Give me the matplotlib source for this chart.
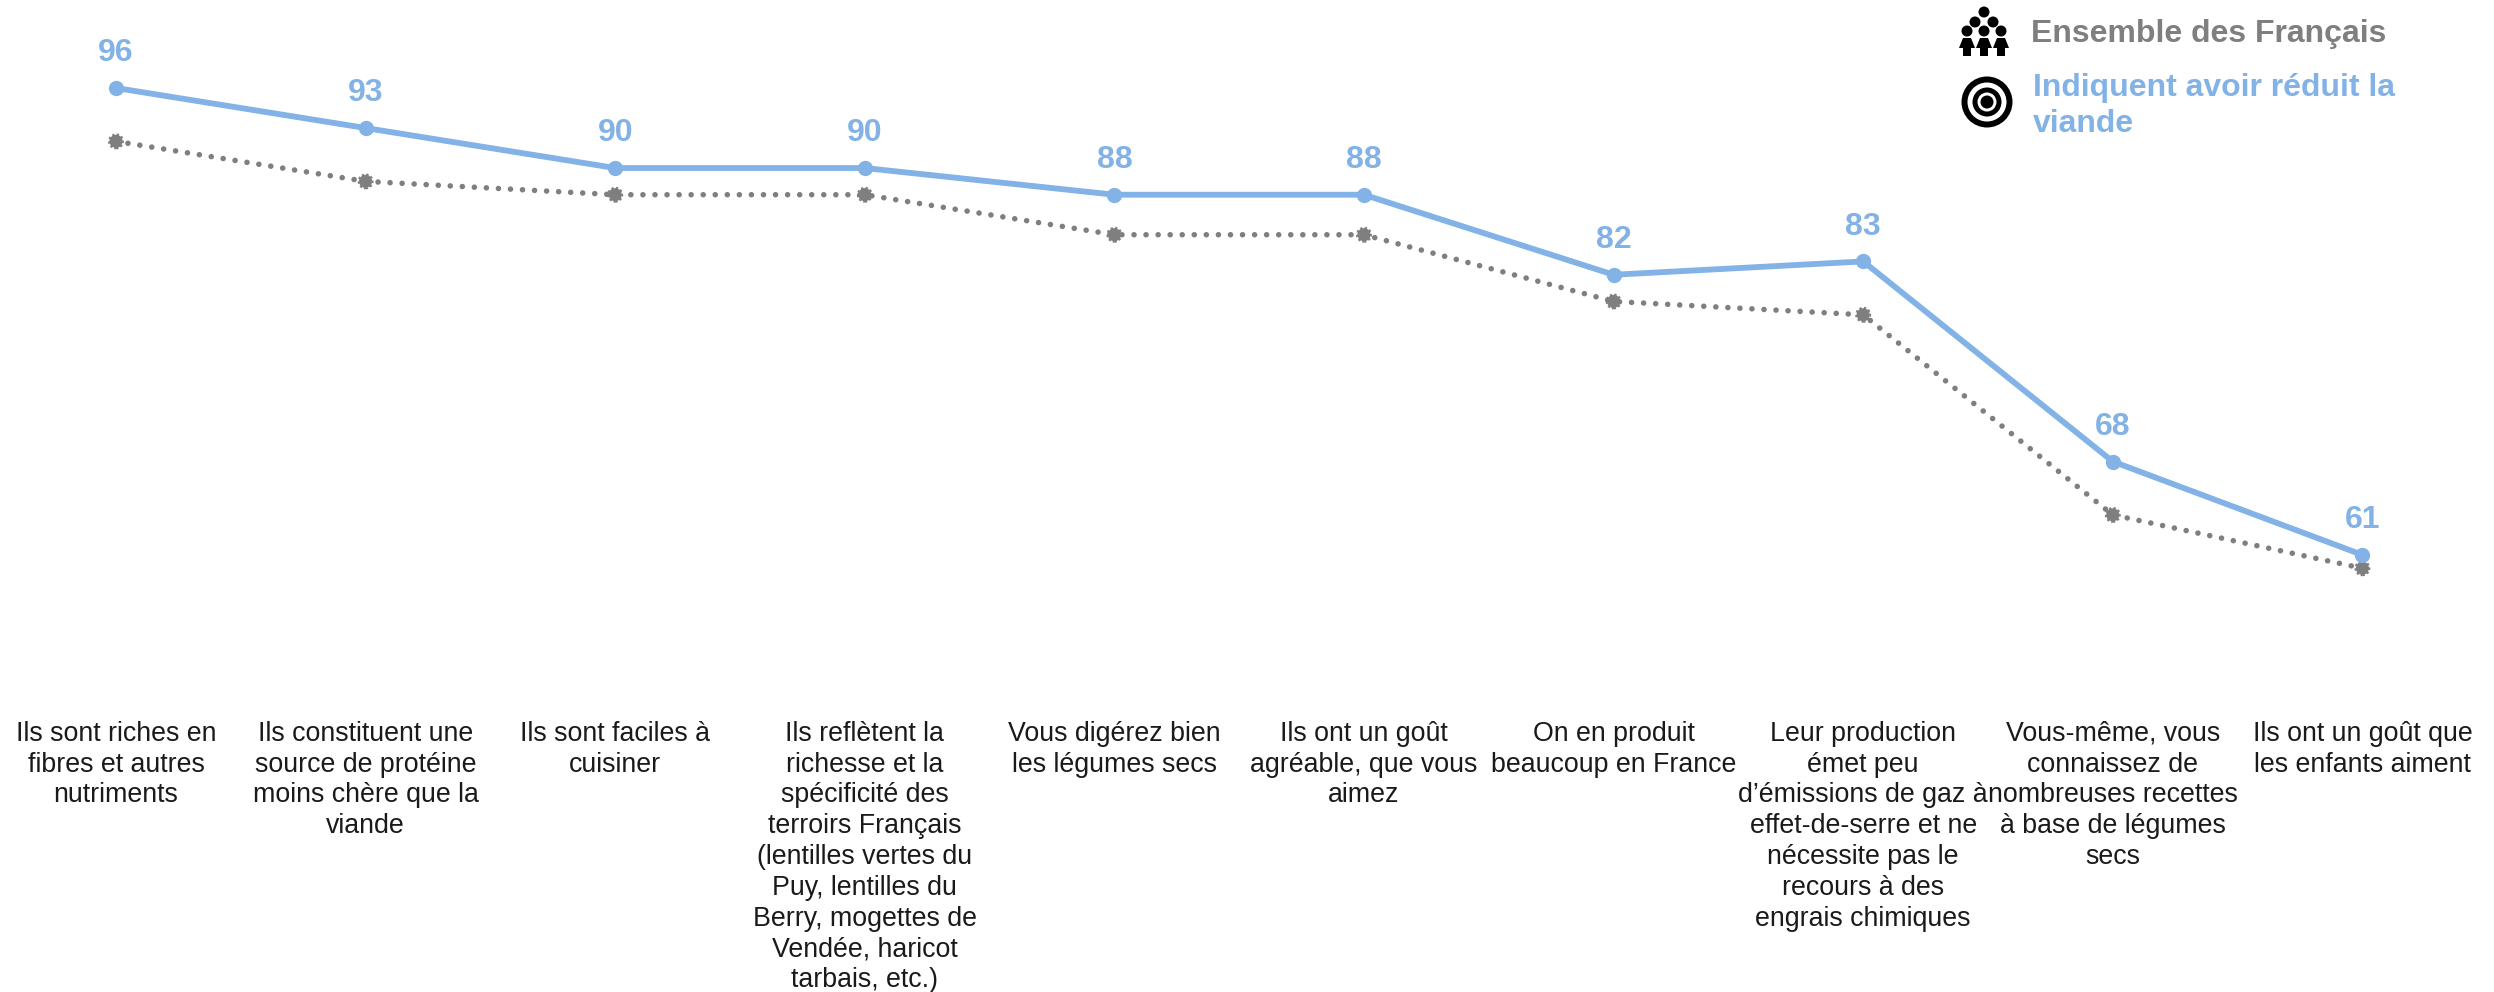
import matplotlib
matplotlib.use("Agg")
import matplotlib.pyplot as plt
from matplotlib.patches import Circle, Ellipse, Polygon

plt.rcParams["font.family"] = ["Liberation Sans", "DejaVu Sans"]

# ==========================================
# DATA
# ==========================================
categories = [
    "Ils sont riches en\nfibres et autres\nnutriments",
    "Ils constituent une\nsource de protéine\nmoins chère que la\nviande",
    "Ils sont faciles à\ncuisiner",
    "Ils reflètent la\nrichesse et la\nspécificité des\nterroirs Français\n(lentilles vertes du\nPuy, lentilles du\nBerry, mogettes de\nVendée, haricot\ntarbais, etc.)",
    "Vous digérez bien\nles légumes secs",
    "Ils ont un goût\nagréable, que vous\naimez",
    "On en produit\nbeaucoup en France",
    "Leur production\német peu\nd’émissions de gaz à\neffet-de-serre et ne\nnécessite pas le\nrecours à des\nengrais chimiques",
    "Vous-même, vous\nconnaissez de\nnombreuses recettes\nà base de légumes\nsecs",
    "Ils ont un goût que\nles enfants aiment",
]
reduit_viande = [96, 93, 90, 90, 88, 88, 82, 83, 68, 61]
ensemble = [92, 89, 88, 88, 85, 85, 80, 79, 64, 60]

BLUE = "#82B2E6"
GREY = "#7F7F7F"
W, H = 2494, 992

# ==========================================
# LAYOUT (pixel anchors of the reference)
# ==========================================
X0_PX, STEP_PX = 116, 249.6
Y96_PX, UNIT_PX = 88, 13.34
AX_BOTTOM_PX = 700

fig = plt.figure(figsize=(W / 100, H / 100), dpi=100)
ax = fig.add_axes([0, 1 - AX_BOTTOM_PX / H, 1, AX_BOTTOM_PX / H])
ax.set_xlim(-X0_PX / STEP_PX, (W - X0_PX) / STEP_PX)
ax.set_ylim(96 - (AX_BOTTOM_PX - Y96_PX) / UNIT_PX, 96 + Y96_PX / UNIT_PX)

x = list(range(len(categories)))

# ==========================================
# SERIES
# ==========================================
ax.plot(x, ensemble, color=GREY, lw=4, ls=(0, (0.01, 2.16)), dash_capstyle="round", zorder=2)
ax.scatter(x, ensemble, s=90, color=GREY, zorder=3, linewidths=2,
           edgecolors=GREY, linestyle=(0, (0.8, 0.8)))
ax.plot(x, reduit_viande, color=BLUE, lw=4.2, marker="o", ms=11, mew=0,
        solid_capstyle="round", zorder=4)

for xi, v in zip(x, reduit_viande):
    ax.annotate(str(v), (xi, v), xytext=(0, 25), textcoords="offset points",
                ha="center", va="center", color=BLUE, fontsize=23, fontweight="bold")

ax.set_xticks(x)
ax.set_xticklabels(categories, fontsize=19.3, color="#1A1A1A", linespacing=1.24)
ax.tick_params(axis="x", length=0, pad=15)
ax.set_yticks([])
for side in ax.spines.values():
    side.set_visible(False)

# ==========================================
# LEGEND (text + icons drawn in pixel space)
# ==========================================
ov = fig.add_axes([0, 0, 1, 1], zorder=5)
ov.set_xlim(0, W)
ov.set_ylim(H, 0)
ov.axis("off")

ov.text(2031, 34, "Ensemble des Français", color=GREY, fontsize=23, fontweight="bold",
        ha="left", va="center")
ov.text(2033, 106, "Indiquent avoir réduit la\nviande", color=BLUE, fontsize=23, fontweight="bold",
        ha="left", va="center", linespacing=1.23)

# people icon
for hx, hy in [(1984, 12), (1975, 22), (1993, 22), (1967, 31), (1984, 31), (2001, 31)]:
    ov.add_patch(Ellipse((hx, hy), 11, 11, color="black", lw=0))
for bx in (1967, 1984, 2001):
    body = [(bx - 4, 38), (bx + 4, 38), (bx + 8, 48), (bx + 4, 48), (bx + 4, 56),
            (bx - 4, 56), (bx - 4, 48), (bx - 8, 48)]
    ov.add_patch(Polygon(body, closed=True, color="black", lw=0))

# target icon
for r, c in [(25.5, "black"), (19.5, "white"), (14.5, "black"), (9.5, "white"), (6.5, "black")]:
    ov.add_patch(Circle((1987, 102), r, color=c, lw=0))

fig.savefig("out.png", dpi=100)
